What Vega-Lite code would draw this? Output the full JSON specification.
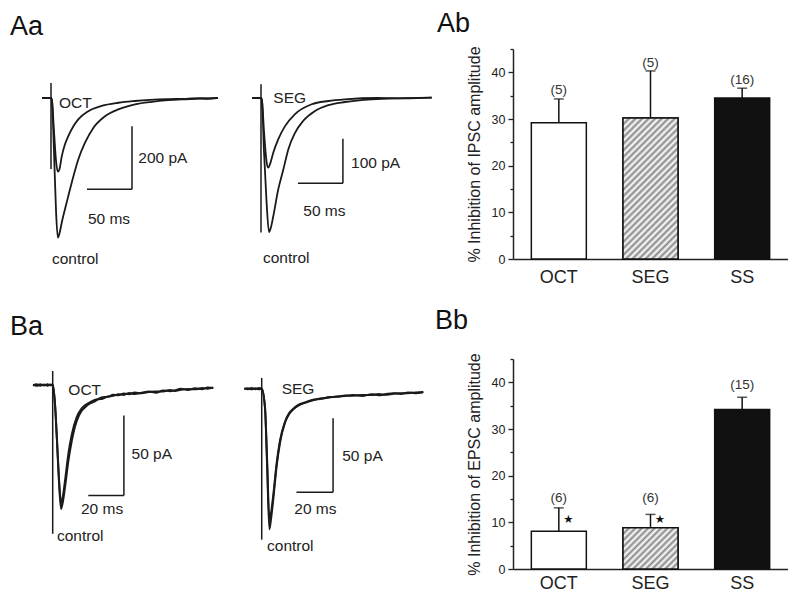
{
  "$schema": "https://vega.github.io/schema/vega-lite/v6.json",
  "padding": {"left": 8, "top": 9, "right": 0, "bottom": 0},
  "config": {
    "view": {"stroke": null},
    "font": "Liberation Sans",
    "title": {"fontSize": 27, "fontWeight": "normal", "color": "#111", "anchor": "start", "frame": "group", "baseline": "alphabetic", "font": "Liberation Sans"},
    "text": {"font": "Liberation Sans", "color": "#222"}
  },
  "datasets": {
    "aoctTr": [
      {"s":"OCT","t":-10,"I":0},{"s":"OCT","t":0,"I":0},{"s":"OCT","t":1.1,"I":-9.5},{"s":"OCT","t":3.3,"I":-105},{"s":"OCT","t":5.6,"I":-200},{"s":"OCT","t":7.6,"I":-234},{"s":"OCT","t":9.4,"I":-226},{"s":"OCT","t":11.9,"I":-186},{"s":"OCT","t":15.6,"I":-146},{"s":"OCT","t":19.2,"I":-121},{"s":"OCT","t":24.4,"I":-92},{"s":"OCT","t":30.3,"I":-68},{"s":"OCT","t":41.4,"I":-42},{"s":"OCT","t":56.3,"I":-25},{"s":"OCT","t":74.8,"I":-15},{"s":"OCT","t":93.3,"I":-9.5},{"s":"OCT","t":110,"I":-6},{"s":"OCT","t":130,"I":-3.5},{"s":"OCT","t":150,"I":-2.5},{"s":"OCT","t":165,"I":-0.5},{"s":"OCT","t":175,"I":-2.5},{"s":"OCT","t":185.6,"I":0.5},
      {"s":"ctrl","t":-10,"I":0},{"s":"ctrl","t":0,"I":0},{"s":"ctrl","t":1.1,"I":-9.5},{"s":"ctrl","t":3.3,"I":-168},{"s":"ctrl","t":5.6,"I":-360},{"s":"ctrl","t":7.6,"I":-443},{"s":"ctrl","t":9.4,"I":-430},{"s":"ctrl","t":11.9,"I":-396},{"s":"ctrl","t":17.4,"I":-332},{"s":"ctrl","t":23,"I":-269},{"s":"ctrl","t":30.3,"I":-195},{"s":"ctrl","t":37.8,"I":-142},{"s":"ctrl","t":47,"I":-95},{"s":"ctrl","t":60,"I":-58},{"s":"ctrl","t":74.8,"I":-36},{"s":"ctrl","t":93.3,"I":-20},{"s":"ctrl","t":111.9,"I":-12},{"s":"ctrl","t":130,"I":-7},{"s":"ctrl","t":149,"I":-4},{"s":"ctrl","t":170,"I":-1.5},{"s":"ctrl","t":185.6,"I":0.5}
    ],
    "aoctRules": [
      {"t":0,"t2":0,"I":48,"I2":-225},
      {"t":40,"t2":90,"I":-290,"I2":-290},
      {"t":90,"t2":90,"I":-90,"I2":-290}
    ],
    "aoctTxt": [
      {"t":8.9,"I":-15,"txt":"OCT"},
      {"t":97,"I":-189,"txt":"200 pA"},
      {"t":41,"I":-385,"txt":"50 ms"},
      {"t":1.1,"I":-512,"txt":"control"}
    ],
    "asegTr": [
      {"s":"SEG","t":-10,"I":0},{"s":"SEG","t":0,"I":0},{"s":"SEG","t":1.1,"I":-6.7},{"s":"SEG","t":3.3,"I":-74},{"s":"SEG","t":6.1,"I":-141},{"s":"SEG","t":8.1,"I":-156},{"s":"SEG","t":10,"I":-148},{"s":"SEG","t":13.7,"I":-122},{"s":"SEG","t":19.2,"I":-92},{"s":"SEG","t":26.7,"I":-63},{"s":"SEG","t":37.8,"I":-36},{"s":"SEG","t":56.3,"I":-14},{"s":"SEG","t":74.8,"I":-6.7},{"s":"SEG","t":93.3,"I":-2.9},{"s":"SEG","t":130,"I":0},{"s":"SEG","t":160,"I":-1},{"s":"SEG","t":189.7,"I":0.7},
      {"s":"ctrl","t":-10,"I":0},{"s":"ctrl","t":0,"I":0},{"s":"ctrl","t":1.1,"I":-6.7},{"s":"ctrl","t":3.3,"I":-119},{"s":"ctrl","t":6.1,"I":-230},{"s":"ctrl","t":8.9,"I":-300},{"s":"ctrl","t":11.1,"I":-289},{"s":"ctrl","t":13.7,"I":-264},{"s":"ctrl","t":19.2,"I":-204},{"s":"ctrl","t":24.8,"I":-160},{"s":"ctrl","t":30.3,"I":-115},{"s":"ctrl","t":37.8,"I":-78},{"s":"ctrl","t":47,"I":-51},{"s":"ctrl","t":60,"I":-29},{"s":"ctrl","t":74.8,"I":-16},{"s":"ctrl","t":93.3,"I":-9},{"s":"ctrl","t":123,"I":-3},{"s":"ctrl","t":160,"I":-0.5},{"s":"ctrl","t":189.7,"I":0.7}
    ],
    "asegRules": [
      {"t":0,"t2":0,"I":31,"I2":-301},
      {"t":41,"t2":91,"I":-191,"I2":-191},
      {"t":91,"t2":91,"I":-91,"I2":-191}
    ],
    "asegTxt": [
      {"t":13.7,"I":-1,"txt":"SEG"},
      {"t":100,"I":-145,"txt":"100 pA"},
      {"t":47,"I":-253,"txt":"50 ms"},
      {"t":2.2,"I":-358,"txt":"control"}
    ],
    "boctTr": [
      {"s":"ctrl","t":-11,"I":0.3},{"s":"ctrl","t":-9,"I":-0.5},{"s":"ctrl","t":-7,"I":0.4},{"s":"ctrl","t":-5,"I":-0.3},{"s":"ctrl","t":-3,"I":0.5},{"s":"ctrl","t":-1,"I":-0.2},{"s":"ctrl","t":0,"I":0},{"s":"ctrl","t":1.3,"I":-12},{"s":"ctrl","t":2.4,"I":-35},{"s":"ctrl","t":3.5,"I":-60},{"s":"ctrl","t":4.7,"I":-77.5},{"s":"ctrl","t":5.8,"I":-72.5},{"s":"ctrl","t":6.9,"I":-64},{"s":"ctrl","t":8.8,"I":-47.5},{"s":"ctrl","t":10.7,"I":-35},{"s":"ctrl","t":13.5,"I":-22.5},{"s":"ctrl","t":16,"I":-16.5},{"s":"ctrl","t":18.1,"I":-14},{"s":"ctrl","t":21,"I":-11.5},{"s":"ctrl","t":23,"I":-10.6},{"s":"ctrl","t":25.6,"I":-9},{"s":"ctrl","t":28,"I":-8.6},{"s":"ctrl","t":31,"I":-7.2},{"s":"ctrl","t":34,"I":-6.8},{"s":"ctrl","t":36.9,"I":-5.8},{"s":"ctrl","t":40,"I":-6.2},{"s":"ctrl","t":43,"I":-5.0},{"s":"ctrl","t":46,"I":-5.6},{"s":"ctrl","t":50,"I":-4.8},{"s":"ctrl","t":54,"I":-4.0},{"s":"ctrl","t":58,"I":-4.8},{"s":"ctrl","t":62,"I":-3.4},{"s":"ctrl","t":66,"I":-3.9},{"s":"ctrl","t":68.7,"I":-3.3},{"s":"ctrl","t":72,"I":-2.4},{"s":"ctrl","t":76,"I":-3.1},{"s":"ctrl","t":80,"I":-2.0},{"s":"ctrl","t":84,"I":-2.6},{"s":"ctrl","t":87,"I":-1.6},{"s":"ctrl","t":90.2,"I":-1.9},
      {"s":"OCT","t":-11,"I":-0.3},{"s":"OCT","t":-9,"I":0.4},{"s":"OCT","t":-7,"I":-0.4},{"s":"OCT","t":-5,"I":0.3},{"s":"OCT","t":-3,"I":-0.4},{"s":"OCT","t":-1,"I":0.3},{"s":"OCT","t":0,"I":0},{"s":"OCT","t":1.3,"I":-12},{"s":"OCT","t":2.4,"I":-34},{"s":"OCT","t":3.5,"I":-58},{"s":"OCT","t":4.7,"I":-74},{"s":"OCT","t":5.8,"I":-69},{"s":"OCT","t":6.9,"I":-60},{"s":"OCT","t":8.8,"I":-43},{"s":"OCT","t":10.7,"I":-31},{"s":"OCT","t":13.5,"I":-20},{"s":"OCT","t":16,"I":-15},{"s":"OCT","t":18.1,"I":-12.6},{"s":"OCT","t":21,"I":-10.8},{"s":"OCT","t":23,"I":-9.6},{"s":"OCT","t":25.6,"I":-8.7},{"s":"OCT","t":28,"I":-7.6},{"s":"OCT","t":31,"I":-7.4},{"s":"OCT","t":34,"I":-6.1},{"s":"OCT","t":36.9,"I":-6.4},{"s":"OCT","t":40,"I":-5.3},{"s":"OCT","t":43,"I":-5.8},{"s":"OCT","t":46,"I":-4.7},{"s":"OCT","t":50,"I":-5.2},{"s":"OCT","t":54,"I":-4.4},{"s":"OCT","t":58,"I":-4.1},{"s":"OCT","t":62,"I":-4.0},{"s":"OCT","t":66,"I":-3.2},{"s":"OCT","t":68.7,"I":-3.7},{"s":"OCT","t":72,"I":-2.9},{"s":"OCT","t":76,"I":-2.5},{"s":"OCT","t":80,"I":-2.7},{"s":"OCT","t":84,"I":-1.9},{"s":"OCT","t":87,"I":-2.3},{"s":"OCT","t":90.2,"I":-1.5}
    ],
    "boctRules": [
      {"t":0,"t2":0,"I":8.75,"I2":-93},
      {"t":20,"t2":40,"I":-69,"I2":-69},
      {"t":40,"t2":40,"I":-19,"I2":-69}
    ],
    "boctTxt": [
      {"t":8.8,"I":-3,"txt":"OCT"},
      {"t":44.3,"I":-43,"txt":"50 pA"},
      {"t":15.9,"I":-77.7,"txt":"20 ms"},
      {"t":2.4,"I":-94.4,"txt":"control"}
    ],
    "bsegTr": [
      {"s":"ctrl","t":-9.5,"I":0.3},{"s":"ctrl","t":-7.5,"I":-0.4},{"s":"ctrl","t":-5.5,"I":0.4},{"s":"ctrl","t":-3.5,"I":-0.3},{"s":"ctrl","t":-1.5,"I":0.4},{"s":"ctrl","t":0,"I":0},{"s":"ctrl","t":1.8,"I":-12.8},{"s":"ctrl","t":2.9,"I":-50},{"s":"ctrl","t":4.2,"I":-95},{"s":"ctrl","t":5.1,"I":-88},{"s":"ctrl","t":6.3,"I":-75},{"s":"ctrl","t":8.2,"I":-52},{"s":"ctrl","t":10,"I":-36.5},{"s":"ctrl","t":12.7,"I":-23},{"s":"ctrl","t":15,"I":-17},{"s":"ctrl","t":17.3,"I":-13.9},{"s":"ctrl","t":20,"I":-11.5},{"s":"ctrl","t":23.7,"I":-9.5},{"s":"ctrl","t":28,"I":-7.8},{"s":"ctrl","t":32.8,"I":-6.5},{"s":"ctrl","t":37,"I":-6.0},{"s":"ctrl","t":41,"I":-5.2},{"s":"ctrl","t":45.5,"I":-4.9},{"s":"ctrl","t":50,"I":-4.3},{"s":"ctrl","t":55,"I":-4.9},{"s":"ctrl","t":60,"I":-3.8},{"s":"ctrl","t":64,"I":-4.4},{"s":"ctrl","t":67.4,"I":-3.8},{"s":"ctrl","t":72,"I":-3.0},{"s":"ctrl","t":76,"I":-3.6},{"s":"ctrl","t":80,"I":-2.6},{"s":"ctrl","t":84,"I":-3.0},{"s":"ctrl","t":88.3,"I":-2.2},
      {"s":"SEG","t":-9.5,"I":-0.3},{"s":"SEG","t":-7.5,"I":0.3},{"s":"SEG","t":-5.5,"I":-0.4},{"s":"SEG","t":-3.5,"I":0.3},{"s":"SEG","t":-1.5,"I":-0.3},{"s":"SEG","t":0,"I":0},{"s":"SEG","t":1.8,"I":-12.8},{"s":"SEG","t":2.9,"I":-46},{"s":"SEG","t":4.2,"I":-88},{"s":"SEG","t":5.1,"I":-84},{"s":"SEG","t":6.3,"I":-72},{"s":"SEG","t":8.2,"I":-50},{"s":"SEG","t":10,"I":-35},{"s":"SEG","t":12.7,"I":-22.5},{"s":"SEG","t":15,"I":-16.5},{"s":"SEG","t":17.3,"I":-13.5},{"s":"SEG","t":20,"I":-11},{"s":"SEG","t":23.7,"I":-9.2},{"s":"SEG","t":28,"I":-7.4},{"s":"SEG","t":32.8,"I":-6.8},{"s":"SEG","t":37,"I":-5.6},{"s":"SEG","t":41,"I":-5.5},{"s":"SEG","t":45.5,"I":-4.6},{"s":"SEG","t":50,"I":-4.8},{"s":"SEG","t":55,"I":-4.2},{"s":"SEG","t":60,"I":-4.3},{"s":"SEG","t":64,"I":-3.6},{"s":"SEG","t":67.4,"I":-4.1},{"s":"SEG","t":72,"I":-3.4},{"s":"SEG","t":76,"I":-3.0},{"s":"SEG","t":80,"I":-3.1},{"s":"SEG","t":84,"I":-2.5},{"s":"SEG","t":88.3,"I":-2.4}
    ],
    "bsegRules": [
      {"t":0,"t2":0,"I":7.3,"I2":-102},
      {"t":19,"t2":39,"I":-70,"I2":-70},
      {"t":39,"t2":39,"I":-20,"I2":-70}
    ],
    "bsegTxt": [
      {"t":10.9,"I":0,"txt":"SEG"},
      {"t":44,"I":-45.5,"txt":"50 pA"},
      {"t":17.8,"I":-81,"txt":"20 ms"},
      {"t":2.9,"I":-106,"txt":"control"}
    ],
    "ab": [
      {"cond":"OCT","mean":29.2,"upper":34.3,"n":"(5)","ly":36.2},
      {"cond":"SEG","mean":30.2,"upper":40.3,"n":"(5)","ly":41.9},
      {"cond":"SS","mean":34.5,"upper":36.6,"n":"(16)","ly":38.3}
    ],
    "bb": [
      {"cond":"OCT","mean":8.1,"upper":13.1,"n":"(6)","ly":15.3,"star":10.4},
      {"cond":"SEG","mean":8.85,"upper":11.7,"n":"(6)","ly":15.3,"star":10.4},
      {"cond":"SS","mean":34.2,"upper":36.8,"n":"(15)","ly":39.4,"star":null}
    ]
  },
  "columns": 3,
  "bounds": "flush",
  "align": "each",
  "spacing": {"row": 100, "column": 5},
  "concat": [
    {
      "width": 232, "height": 210,
      "title": {"text": "Aa", "dx": 2, "offset": 8},
      "encoding": {
        "x": {"field": "t", "type": "quantitative", "scale": {"domain": [-47.78, 210], "nice": false, "zero": false}, "axis": null},
        "y": {"field": "I", "type": "quantitative", "scale": {"domain": [-511.1, 155.6], "nice": false, "zero": false}, "axis": null}
      },
      "layer": [
        {"data": {"name": "aoctTr"}, "mark": {"type": "line", "stroke": "#1a1a1a", "strokeWidth": 1.8, "interpolate": "monotone"}, "encoding": {"detail": {"field": "s"}}},
        {"data": {"name": "aoctRules"}, "mark": {"type": "rule", "stroke": "#1a1a1a", "strokeWidth": 1.5}, "encoding": {"x2": {"field": "t2"}, "y2": {"field": "I2"}}},
        {"data": {"name": "aoctTxt"}, "mark": {"type": "text", "align": "left", "baseline": "middle", "fontSize": 15.5}, "encoding": {"text": {"field": "txt"}}}
      ]
    },
    {
      "width": 263, "height": 210,
      "encoding": {
        "x": {"field": "t", "type": "quantitative", "scale": {"domain": [-17.78, 274.4], "nice": false, "zero": false}, "axis": null},
        "y": {"field": "I", "type": "quantitative", "scale": {"domain": [-360.2, 109.6], "nice": false, "zero": false}, "axis": null}
      },
      "layer": [
        {"data": {"name": "asegTr"}, "mark": {"type": "line", "stroke": "#1a1a1a", "strokeWidth": 1.8, "interpolate": "monotone"}, "encoding": {"detail": {"field": "s"}}},
        {"data": {"name": "asegRules"}, "mark": {"type": "rule", "stroke": "#1a1a1a", "strokeWidth": 1.5}, "encoding": {"x2": {"field": "t2"}, "y2": {"field": "I2"}}},
        {"data": {"name": "asegTxt"}, "mark": {"type": "text", "align": "left", "baseline": "middle", "fontSize": 15.5}, "encoding": {"text": {"field": "txt"}}}
      ]
    },
    {
      "width": 275, "height": 210,
      "title": {"text": "Ab", "dx": -76, "offset": 8},
      "data": {"name": "ab"},
      "encoding": {
        "x": {"field": "cond", "type": "nominal", "sort": null, "title": null, "scale": {"paddingInner": 0.4, "paddingOuter": 0.2}, "axis": {"labelAngle": 0, "ticks": false, "labelFontSize": 18, "labelPadding": 9, "domainColor": "#222", "domainWidth": 1.5, "labelColor": "#222", "grid": false}},
        "y": {"field": "mean", "type": "quantitative", "title": "% Inhibition of IPSC amplitude", "scale": {"domain": [0, 45], "nice": false}, "axis": {"values": [0,5,10,15,20,25,30,35,40,45], "labelExpr": "datum.value % 10 === 0 ? datum.label : ''", "tickSize": {"condition": {"test": "datum.value % 10 === 0", "value": 5}, "value": 3}, "grid": false, "labelFontSize": 12.5, "labelPadding": 3, "titleFontSize": 16, "titleFontWeight": "normal", "titlePadding": 9, "domainColor": "#222", "domainWidth": 1.5, "tickColor": "#222", "tickWidth": 1.3, "labelColor": "#222", "titleColor": "#222"}}
      },
      "layer": [
        {"mark": {"type": "bar", "stroke": "#111", "strokeWidth": 1.5}, "encoding": {"fill": {"condition": {"test": "datum.cond === 'SS'", "value": "#111"}, "value": "#ffffff"}}},
        {"transform": [{"filter": "datum.cond === 'SEG'"}], "mark": {"type": "bar", "stroke": "#111", "strokeWidth": 1.5, "fill": {"gradient": "linear", "x1": 0, "y1": 0, "x2": 0.471, "y2": 1.207, "stops": [
          {"offset":0,"color":"#888"},{"offset":0.0167,"color":"#fff"},{"offset":0.0333,"color":"#888"},{"offset":0.05,"color":"#fff"},{"offset":0.0667,"color":"#888"},{"offset":0.0833,"color":"#fff"},{"offset":0.1,"color":"#888"},{"offset":0.1167,"color":"#fff"},{"offset":0.1333,"color":"#888"},{"offset":0.15,"color":"#fff"},{"offset":0.1667,"color":"#888"},{"offset":0.1833,"color":"#fff"},{"offset":0.2,"color":"#888"},{"offset":0.2167,"color":"#fff"},{"offset":0.2333,"color":"#888"},{"offset":0.25,"color":"#fff"},{"offset":0.2667,"color":"#888"},{"offset":0.2833,"color":"#fff"},{"offset":0.3,"color":"#888"},{"offset":0.3167,"color":"#fff"},{"offset":0.3333,"color":"#888"},{"offset":0.35,"color":"#fff"},{"offset":0.3667,"color":"#888"},{"offset":0.3833,"color":"#fff"},{"offset":0.4,"color":"#888"},{"offset":0.4167,"color":"#fff"},{"offset":0.4333,"color":"#888"},{"offset":0.45,"color":"#fff"},{"offset":0.4667,"color":"#888"},{"offset":0.4833,"color":"#fff"},{"offset":0.5,"color":"#888"},{"offset":0.5167,"color":"#fff"},{"offset":0.5333,"color":"#888"},{"offset":0.55,"color":"#fff"},{"offset":0.5667,"color":"#888"},{"offset":0.5833,"color":"#fff"},{"offset":0.6,"color":"#888"},{"offset":0.6167,"color":"#fff"},{"offset":0.6333,"color":"#888"},{"offset":0.65,"color":"#fff"},{"offset":0.6667,"color":"#888"},{"offset":0.6833,"color":"#fff"},{"offset":0.7,"color":"#888"},{"offset":0.7167,"color":"#fff"},{"offset":0.7333,"color":"#888"},{"offset":0.75,"color":"#fff"},{"offset":0.7667,"color":"#888"},{"offset":0.7833,"color":"#fff"},{"offset":0.8,"color":"#888"},{"offset":0.8167,"color":"#fff"},{"offset":0.8333,"color":"#888"},{"offset":0.85,"color":"#fff"},{"offset":0.8667,"color":"#888"},{"offset":0.8833,"color":"#fff"},{"offset":0.9,"color":"#888"},{"offset":0.9167,"color":"#fff"},{"offset":0.9333,"color":"#888"},{"offset":0.95,"color":"#fff"},{"offset":0.9667,"color":"#888"},{"offset":0.9833,"color":"#fff"},{"offset":1,"color":"#888"}
        ]}}},
        {"mark": {"type": "rule", "color": "#111", "strokeWidth": 1.5}, "encoding": {"y2": {"field": "upper"}}},
        {"mark": {"type": "tick", "orient": "horizontal", "size": 10, "thickness": 1.5, "color": "#111"}, "encoding": {"y": {"field": "upper", "type": "quantitative", "title": "% Inhibition of IPSC amplitude"}}},
        {"mark": {"type": "text", "fontSize": 13.5, "baseline": "middle", "color": "#333"}, "encoding": {"y": {"field": "ly", "type": "quantitative", "title": "% Inhibition of IPSC amplitude"}, "text": {"field": "n"}}}
      ]
    },
    {
      "width": 232, "height": 210,
      "title": {"text": "Ba", "dx": 2, "offset": 18},
      "encoding": {
        "x": {"field": "t", "type": "quantitative", "scale": {"domain": [-25.11, 105.22], "nice": false, "zero": false}, "axis": null},
        "y": {"field": "I", "type": "quantitative", "scale": {"domain": [-115, 16.25], "nice": false, "zero": false}, "axis": null}
      },
      "layer": [
        {"data": {"name": "boctTr"}, "mark": {"type": "line", "stroke": "#1a1a1a", "strokeWidth": 2, "interpolate": "monotone"}, "encoding": {"detail": {"field": "s"}}},
        {"data": {"name": "boctRules"}, "mark": {"type": "rule", "stroke": "#1a1a1a", "strokeWidth": 1.5}, "encoding": {"x2": {"field": "t2"}, "y2": {"field": "I2"}}},
        {"data": {"name": "boctTxt"}, "mark": {"type": "text", "align": "left", "baseline": "middle", "fontSize": 15.5}, "encoding": {"text": {"field": "txt"}}}
      ]
    },
    {
      "width": 263, "height": 210,
      "encoding": {
        "x": {"field": "t", "type": "quantitative", "scale": {"domain": [-9.13, 134.59], "nice": false, "zero": false}, "axis": null},
        "y": {"field": "I", "type": "quantitative", "scale": {"domain": [-121.83, 20.07], "nice": false, "zero": false}, "axis": null}
      },
      "layer": [
        {"data": {"name": "bsegTr"}, "mark": {"type": "line", "stroke": "#1a1a1a", "strokeWidth": 2, "interpolate": "monotone"}, "encoding": {"detail": {"field": "s"}}},
        {"data": {"name": "bsegRules"}, "mark": {"type": "rule", "stroke": "#1a1a1a", "strokeWidth": 1.5}, "encoding": {"x2": {"field": "t2"}, "y2": {"field": "I2"}}},
        {"data": {"name": "bsegTxt"}, "mark": {"type": "text", "align": "left", "baseline": "middle", "fontSize": 15.5}, "encoding": {"text": {"field": "txt"}}}
      ]
    },
    {
      "width": 275, "height": 210,
      "title": {"text": "Bb", "dx": -78, "offset": 18},
      "data": {"name": "bb"},
      "encoding": {
        "x": {"field": "cond", "type": "nominal", "sort": null, "title": null, "scale": {"paddingInner": 0.4, "paddingOuter": 0.2}, "axis": {"labelAngle": 0, "ticks": false, "labelFontSize": 18, "labelPadding": 5, "domainColor": "#222", "domainWidth": 1.5, "labelColor": "#222", "grid": false}},
        "y": {"field": "mean", "type": "quantitative", "title": "% Inhibition of EPSC amplitude", "scale": {"domain": [0, 45], "nice": false}, "axis": {"values": [0,5,10,15,20,25,30,35,40,45], "labelExpr": "datum.value % 10 === 0 ? datum.label : ''", "tickSize": {"condition": {"test": "datum.value % 10 === 0", "value": 5}, "value": 3}, "grid": false, "labelFontSize": 12.5, "labelPadding": 3, "titleFontSize": 16, "titleFontWeight": "normal", "titlePadding": 9, "domainColor": "#222", "domainWidth": 1.5, "tickColor": "#222", "tickWidth": 1.3, "labelColor": "#222", "titleColor": "#222"}}
      },
      "layer": [
        {"mark": {"type": "bar", "stroke": "#111", "strokeWidth": 1.5}, "encoding": {"fill": {"condition": {"test": "datum.cond === 'SS'", "value": "#111"}, "value": "#ffffff"}}},
        {"transform": [{"filter": "datum.cond === 'SEG'"}], "mark": {"type": "bar", "stroke": "#111", "strokeWidth": 1.5, "fill": {"gradient": "linear", "x1": 0, "y1": 0, "x2": 1.1195, "y2": 0.8407, "stops": [
          {"offset":0,"color":"#888"},{"offset":0.0333,"color":"#fff"},{"offset":0.0667,"color":"#888"},{"offset":0.1,"color":"#fff"},{"offset":0.1333,"color":"#888"},{"offset":0.1667,"color":"#fff"},{"offset":0.2,"color":"#888"},{"offset":0.2333,"color":"#fff"},{"offset":0.2667,"color":"#888"},{"offset":0.3,"color":"#fff"},{"offset":0.3333,"color":"#888"},{"offset":0.3667,"color":"#fff"},{"offset":0.4,"color":"#888"},{"offset":0.4333,"color":"#fff"},{"offset":0.4667,"color":"#888"},{"offset":0.5,"color":"#fff"},{"offset":0.5333,"color":"#888"},{"offset":0.5667,"color":"#fff"},{"offset":0.6,"color":"#888"},{"offset":0.6333,"color":"#fff"},{"offset":0.6667,"color":"#888"},{"offset":0.7,"color":"#fff"},{"offset":0.7333,"color":"#888"},{"offset":0.7667,"color":"#fff"},{"offset":0.8,"color":"#888"},{"offset":0.8333,"color":"#fff"},{"offset":0.8667,"color":"#888"},{"offset":0.9,"color":"#fff"},{"offset":0.9333,"color":"#888"},{"offset":0.9667,"color":"#fff"},{"offset":1,"color":"#888"}
        ]}}},
        {"mark": {"type": "rule", "color": "#111", "strokeWidth": 1.5}, "encoding": {"y2": {"field": "upper"}}},
        {"mark": {"type": "tick", "orient": "horizontal", "size": 10, "thickness": 1.5, "color": "#111"}, "encoding": {"y": {"field": "upper", "type": "quantitative", "title": "% Inhibition of EPSC amplitude"}}},
        {"mark": {"type": "text", "fontSize": 13.5, "baseline": "middle", "color": "#333"}, "encoding": {"y": {"field": "ly", "type": "quantitative", "title": "% Inhibition of EPSC amplitude"}, "text": {"field": "n"}}},
        {"transform": [{"filter": "isValid(datum.star)"}], "mark": {"type": "text", "text": "★", "font": "DejaVu Sans", "fontSize": 11.5, "baseline": "middle", "xOffset": 9.5, "color": "#111"}, "encoding": {"y": {"field": "star", "type": "quantitative", "title": "% Inhibition of EPSC amplitude"}}}
      ]
    }
  ]
}
